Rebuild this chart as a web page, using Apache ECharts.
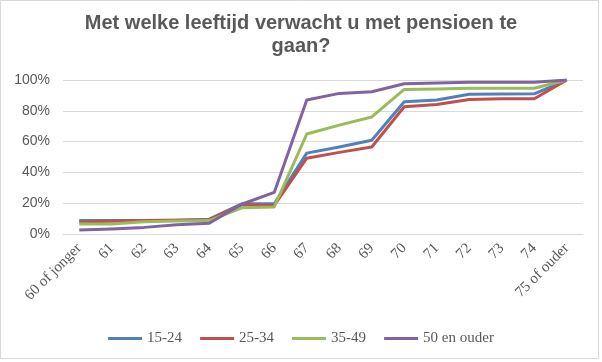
<!DOCTYPE html>
<html>
<head>
<meta charset="utf-8">
<script src="https://cdn.jsdelivr.net/npm/echarts@6/dist/echarts.min.js"></script>
<style>
html,body{margin:0;padding:0;background:#fff;}
#c{width:602px;height:362px;}
</style>
</head>
<body>
<div id="c"></div>
<script>
var categories = ['60 of jonger','61','62','63','64','65','66','67','68','69','70','71','72','73','74','75 of ouder'];
var yTicks = [0, 20, 40, 60, 80, 100];
var seriesNames = ['15-24','25-34','35-49','50 en ouder'];
var s15_24 = [8.7, 8.7, 8.7, 9.0, 9.6, 19.6, 19.6, 52.5, 56.5, 60.9, 85.9, 87.0, 90.7, 90.9, 91.0, 100];
var s25_34 = [7.8, 8.2, 8.7, 9.0, 9.3, 19.0, 18.5, 49.2, 53.0, 56.5, 82.6, 84.1, 87.4, 87.8, 87.8, 100];
var s35_49 = [6.5, 6.5, 8.0, 8.5, 8.7, 17.0, 17.6, 64.9, 70.7, 76.0, 93.9, 94.1, 94.6, 94.6, 94.6, 100];
var s50plus = [2.6, 3.3, 4.3, 6.0, 7.0, 19.3, 27.0, 87.0, 91.3, 92.4, 97.6, 98.0, 98.5, 98.5, 98.5, 100];
var titleText = 'Met welke leeftijd verwacht u met pensioen te\ngaan?';

var colors = ['#4F81BD', '#C0504D', '#9BBB59', '#8064A2'];
var allData = [s15_24, s25_34, s35_49, s50plus];

var chart = echarts.init(document.getElementById('c'), null, {renderer: 'canvas'});
chart.setOption({
  animation: false,
  backgroundColor: '#fff',
  color: colors,
  graphic: [{
    type: 'rect',
    shape: {x: 0.5, y: 0.5, width: 598, height: 358},
    style: {fill: 'none', stroke: '#d9d9d9', lineWidth: 1},
    silent: true
  }, {
    type: 'text',
    x: 301,
    y: 12,
    silent: true,
    style: {
      text: titleText,
      align: 'center',
      verticalAlign: 'top',
      fontFamily: 'Liberation Sans',
      fontSize: 20,
      fontWeight: 'bold',
      fill: '#595959',
      lineHeight: 23
    }
  }],
  legend: {
    bottom: 11,
    left: 'center',
    itemWidth: 34,
    itemHeight: 3,
    itemGap: 18,
    icon: 'rect',
    textStyle: {
      fontFamily: 'Liberation Serif',
      fontSize: 15,
      color: '#595959'
    },
    data: seriesNames
  },
  grid: {
    left: 63,
    right: 19,
    top: 80,
    bottom: 128,
    containLabel: false
  },
  xAxis: {
    type: 'category',
    data: categories,
    boundaryGap: true,
    axisLine: {show: true, lineStyle: {color: '#d9d9d9', width: 1}},
    axisTick: {show: false},
    axisLabel: {
      rotate: 45,
      interval: 0,
      margin: 12,
      fontFamily: 'Liberation Serif',
      fontSize: 15,
      color: '#595959'
    }
  },
  yAxis: {
    type: 'value',
    min: yTicks[0],
    max: yTicks[yTicks.length - 1],
    interval: 20,
    axisLine: {show: false},
    axisTick: {show: false},
    splitLine: {lineStyle: {color: '#d9d9d9', width: 1}},
    axisLabel: {
      formatter: '{value}%',
      margin: 13,
      fontFamily: 'Liberation Sans',
      fontSize: 14,
      color: '#595959'
    }
  },
  series: seriesNames.map(function (n, i) {
    return {
      name: n,
      type: 'line',
      data: allData[i],
      symbol: 'none',
      lineStyle: {width: 3, color: colors[i], join: 'round'},
      itemStyle: {color: colors[i]}
    };
  })
});
</script>
</body>
</html>
